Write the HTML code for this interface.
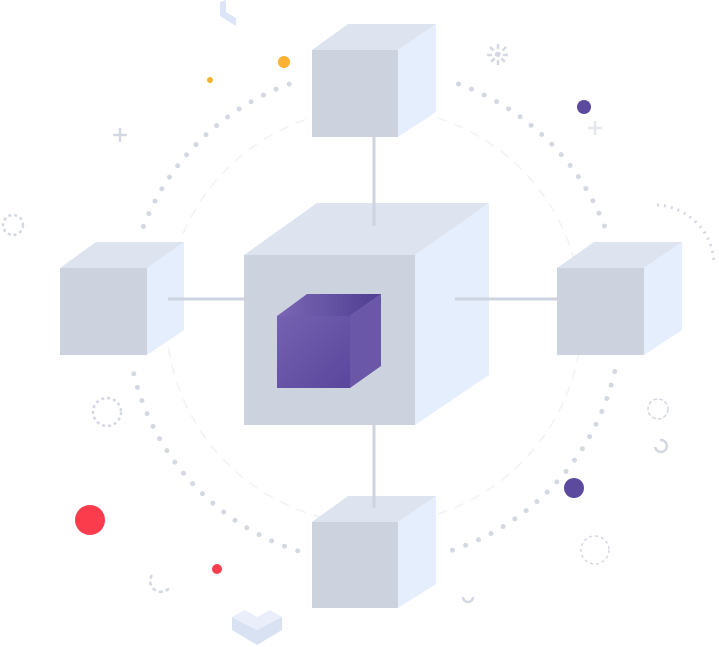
<!DOCTYPE html>
<html><head><meta charset="utf-8"><style>html,body{margin:0;padding:0;background:#fff;width:719px;height:647px;overflow:hidden}</style></head>
<body>
<svg width="719" height="647" viewBox="0 0 719 647" xmlns="http://www.w3.org/2000/svg">
<defs>
<linearGradient id="pf" x1="0" y1="0" x2="1" y2="1"><stop offset="0" stop-color="#7462b0"/><stop offset="1" stop-color="#5a469c"/></linearGradient>
<linearGradient id="pt" x1="0" y1="0" x2="1" y2="0"><stop offset="0" stop-color="#7a68b4"/><stop offset="1" stop-color="#4f3d92"/></linearGradient>
</defs>
<g fill="none" stroke="#f0f2f5" stroke-width="1.5" stroke-dasharray="10 8">
<circle cx="374" cy="316" r="208"/>
</g>
<g fill="none" stroke="#d3d8e2" stroke-width="5" stroke-linecap="round" stroke-dasharray="0 14">
<path d="M143.4 226.5 A247 247 0 0 1 289.5 84"/>
<path d="M458.5 84 A247 247 0 0 1 604.6 226.5"/>
<path d="M614.7 371.6 A247 247 0 0 1 450.3 550.9"/>
<path d="M297.7 550.9 A247 247 0 0 1 133.3 371.6"/>
</g>
<polygon points="312,50 348,24 436,24 398,50" fill="#dde3ef"/><polygon points="398,50 436,24 436,112 398,137" fill="#e5eefc"/><rect x="312" y="50" width="86" height="87" fill="#ccd3df"/>
<polygon points="60,268 96,242 184,242 147,268" fill="#dde3ef"/><polygon points="147,268 184,242 184,330 147,355" fill="#e5eefc"/><rect x="60" y="268" width="87" height="87" fill="#ccd3df"/>
<polygon points="557,268 594,242 682,242 644,268" fill="#dde3ef"/><polygon points="644,268 682,242 682,330 644,355" fill="#e5eefc"/><rect x="557" y="268" width="87" height="87" fill="#ccd3df"/>
<polygon points="312,522 348,496 436,496 398,522" fill="#dde3ef"/><polygon points="398,522 436,496 436,584 398,608" fill="#e5eefc"/><rect x="312" y="522" width="86" height="86" fill="#ccd3df"/>
<polygon points="244,255 317,203 489,203 415,255" fill="#dde3ef"/><polygon points="415,255 489,203 489,375 415,425" fill="#e5eefc"/><rect x="244" y="255" width="171" height="170" fill="#ccd3df"/>
<polygon points="277,316 307,294 381,294 350,316" fill="url(#pt)"/><polygon points="350,316 381,294 381,366 350,388" fill="#6a57a8"/><rect x="277" y="316" width="73" height="72" fill="url(#pf)"/>
<g stroke="#cdd4e0" stroke-width="3">
<line x1="374" y1="137" x2="374" y2="226"/>
<line x1="374" y1="425" x2="374" y2="508"/>
<line x1="168" y1="299" x2="244" y2="299"/>
<line x1="455" y1="299" x2="557" y2="299"/>
</g>
<circle cx="90" cy="520" r="15" fill="#fa3c4c"/>
<circle cx="217" cy="569" r="5" fill="#fa3c4c"/>
<circle cx="284" cy="62" r="6" fill="#fbb233"/>
<circle cx="210" cy="80" r="3" fill="#fbb233"/>
<circle cx="584" cy="107" r="7" fill="#5b4a9e"/>
<circle cx="574" cy="488" r="10" fill="#5b4a9e"/>
<g fill="none" stroke="#d3d8e2" stroke-width="2.5">
<circle cx="13" cy="225" r="10" stroke-dasharray="3 3"/>
<circle cx="107" cy="412" r="14" stroke-dasharray="3 3"/>
<circle cx="595" cy="550" r="14" stroke-dasharray="3 3" stroke-width="1.5"/>
<circle cx="658" cy="409" r="10" stroke-width="1.5" stroke-dasharray="4 2"/>
<path d="M120 128v14M113 135h14"/>
<path d="M595 121v14M588 128h14" stroke="#e5e8ee"/>
<path d="M498 44v22M487 55h22M490 47l16 16M506 47l-16 16" stroke-dasharray="5 3"/>
<path d="M655 447a6 6 0 1 0 5 -7"/>
<path d="M463 597a5 5 0 0 0 10 0"/>
<path d="M152 575a10 10 0 0 0 18 12" stroke-dasharray="4 3"/>
<path d="M657 205 A60 60 0 0 1 714 264" stroke-width="3" stroke-dasharray="2 5"/>
</g>
<polygon points="220,2 226,0 226,12 236,18 236,26 220,16" fill="#dde6f8"/>
<polygon points="232,617 257,630 282,617 282,630 257,645 232,630" fill="#d9e2f2"/>
<polygon points="232,617 245,610 257,617 270,610 282,617 257,630" fill="#e9eefa"/>
</svg>
</body></html>
